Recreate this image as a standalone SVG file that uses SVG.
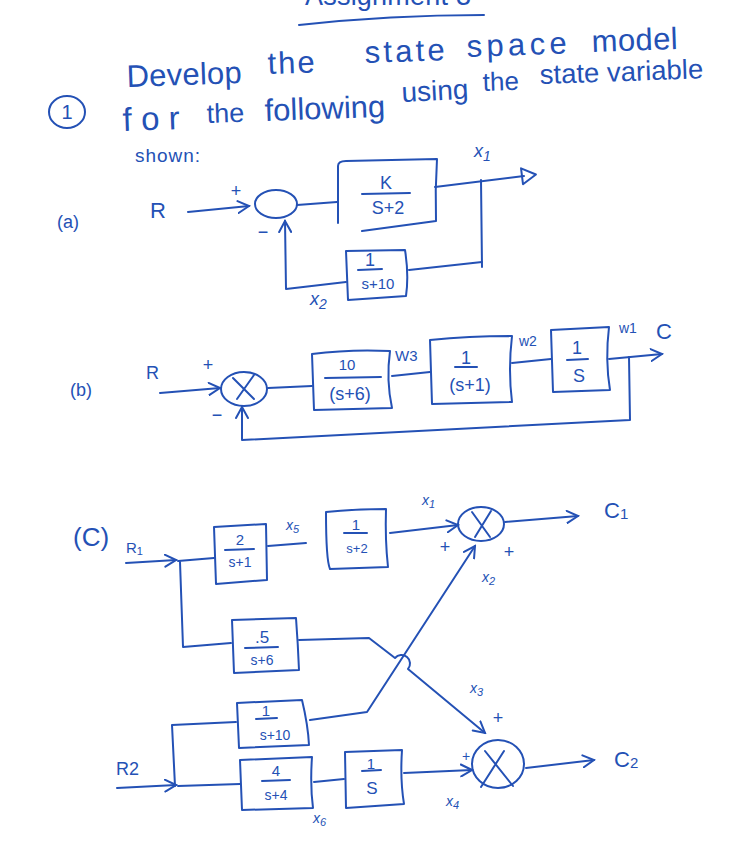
<svg xmlns="http://www.w3.org/2000/svg" width="749" height="854" viewBox="0 0 749 854">
<defs>
<style>
.ink{stroke:#2451b5;stroke-width:2;fill:none;stroke-linecap:round;stroke-linejoin:round}
text{fill:#2451b5;font-family:"Liberation Sans","DejaVu Sans",sans-serif}
.h{font-size:31px}
.lb{font-size:18px}
.sm{font-size:14px}
.m{text-anchor:middle}
.v{font-style:italic}
</style>
<marker id="arr" markerUnits="userSpaceOnUse" viewBox="0 0 14 14" markerWidth="14" markerHeight="14" refX="12" refY="7" orient="auto">
<path d="M1,1 L12,7 L1,13" fill="none" stroke="#2451b5" stroke-width="2" stroke-linecap="round"/>
</marker>
<marker id="tri" markerUnits="userSpaceOnUse" viewBox="0 0 20 20" markerWidth="20" markerHeight="20" refX="4" refY="10" orient="auto">
<path d="M2,2 L16,10 L2,18 Z" fill="none" stroke="#2451b5" stroke-width="2" stroke-linejoin="round"/>
</marker>
</defs>
<rect width="749" height="854" fill="#ffffff"/>

<g id="heading">
<text x="305" y="5" class="h" style="font-size:27px" textLength="166" lengthAdjust="spacing">Assignment 3</text>
<path class="ink" d="M299,25 Q390,15 484,15"/>
<text x="127" y="87" class="h" textLength="115" lengthAdjust="spacing" transform="rotate(-2 127 87)">Develop</text>
<text x="268" y="74" class="h" textLength="47" lengthAdjust="spacing" transform="rotate(-2 268 74)">the</text>
<text x="365" y="63" class="h" textLength="80" lengthAdjust="spacing" transform="rotate(-2 365 63)">state</text>
<text x="467" y="57" class="h" textLength="100" lengthAdjust="spacing" transform="rotate(-2 467 57)">space</text>
<text x="592" y="52" class="h" textLength="86" lengthAdjust="spacing" transform="rotate(-2 592 52)">model</text>
<ellipse cx="67" cy="112" rx="18" ry="16" class="ink"/>
<text x="67" y="119" class="m" style="font-size:20px">1</text>
<text x="123" y="131" style="font-size:33px" textLength="57" lengthAdjust="spacing" transform="rotate(-2 123 131)">for</text>
<text x="207" y="123" style="font-size:27px" transform="rotate(-2 207 123)">the</text>
<text x="265" y="121" style="font-size:31px" transform="rotate(-2 265 121)">following</text>
<text x="402" y="102" style="font-size:28px" transform="rotate(-3 402 102)">using</text>
<text x="483" y="91" style="font-size:26px" transform="rotate(-2 483 91)">the</text>
<text x="540" y="84" style="font-size:27.5px" transform="rotate(-2 540 84)">state variable</text>
<text x="135" y="162" style="font-size:19px" textLength="65" lengthAdjust="spacing">shown:</text>
</g>

<g id="connectors">
<!-- (a) -->
<path class="ink" d="M188,212 L249,206" marker-end="url(#arr)"/>
<path class="ink" d="M297,205 L337,202"/>
<path class="ink" d="M435,187 L524,176" marker-end="url(#tri)"/>
<path class="ink" d="M481,180 L482,267"/>
<path class="ink" d="M482,262 L409,270"/>
<path class="ink" d="M346,282 L286,289 L285,221" marker-end="url(#arr)"/>
<!-- (b) -->
<path class="ink" d="M160,393 L220,388" marker-end="url(#arr)"/>
<path class="ink" d="M268,388 L312,386"/>
<path class="ink" d="M392,376 L430,372"/>
<path class="ink" d="M512,363 L551,359"/>
<path class="ink" d="M609,359 L662,354" marker-end="url(#arr)"/>
<path class="ink" d="M629,357 L630,420 L242,440 L242,407" marker-end="url(#arr)"/>
<!-- (c) -->
<path class="ink" d="M126,563 L176,560" marker-end="url(#arr)"/>
<path class="ink" d="M178,561 L214,558"/>
<path class="ink" d="M180,562 L183,647 L231,643"/>
<path class="ink" d="M268,546 L306,543"/>
<path class="ink" d="M390,533 L458,525" marker-end="url(#arr)"/>
<path class="ink" d="M505,522 L578,516" marker-end="url(#arr)"/>
<path class="ink" d="M299,640 L369,638 L395,658 A7,7 0 0 1 408,669 L485,733" marker-end="url(#arr)"/>
<path class="ink" d="M310,720 L367,712 L475,546" marker-end="url(#arr)"/>
<path class="ink" d="M236,722 L172,725 L175,786"/>
<path class="ink" d="M117,788 L176,785" marker-end="url(#arr)"/>
<path class="ink" d="M178,786 L240,784"/>
<path class="ink" d="M314,782 L344,779"/>
<path class="ink" d="M404,773 L472,770" marker-end="url(#arr)"/>
<path class="ink" d="M526,768 L594,760" marker-end="url(#arr)"/>
</g>

<g id="labels-a">
<text x="57" y="228" class="lb">(a)</text>
<text x="150" y="218" style="font-size:22px">R</text>
<text x="236" y="197" class="m lb">+</text>
<text x="263" y="238" class="m lb">−</text>
<text x="474" y="157" class="lb v">x<tspan class="sm" dy="4">1</tspan></text>
<text x="310" y="305" class="lb v">x<tspan class="sm" dy="4">2</tspan></text>
</g>
<g id="sum-a">
<ellipse cx="276" cy="204" rx="21" ry="14" class="ink"/>
</g>
<g id="block-a1">
<path class="ink" d="M338,166 Q338,161 346,161 L437,159 Q435,190 436,221 L362,231 M338,166 L338,223"/>
<text x="386" y="189" class="m lb">K</text>
<path class="ink" d="M362,194 L410,193"/>
<text x="388" y="214" class="m lb">S+2</text>
</g>
<g id="block-a2">
<path class="ink" d="M346,251 L405,250 Q409,275 406,296 L348,300 Z"/>
<text x="370" y="266" class="m lb">1</text>
<path class="ink" d="M358,270 L382,269"/>
<text x="378" y="289" class="m" style="font-size:15px">s+10</text>
</g>

<g id="labels-b">
<text x="70" y="396" class="lb">(b)</text>
<text x="146" y="379" class="lb">R</text>
<text x="208" y="371" class="m lb">+</text>
<text x="217" y="421" class="m lb">−</text>
<text x="395" y="361" style="font-size:15px">W3</text>
<text x="519" y="346" class="sm">w2</text>
<text x="619" y="333" class="sm">w1</text>
<text x="656" y="339" style="font-size:22px">C</text>
</g>
<g id="sum-b">
<ellipse cx="244" cy="389" rx="23" ry="17" class="ink"/>
<path class="ink" d="M233,378 L254,399 M254,375 L237,399"/>
</g>
<g id="block-b1">
<path class="ink" d="M312,354 Q350,349 390,351 Q386,380 392,408 L314,410 Z"/>
<text x="347" y="370" class="m" style="font-size:15px">10</text>
<path class="ink" d="M325,378 L381,377"/>
<text x="350" y="400" class="m lb">(s+6)</text>
</g>
<g id="block-b2">
<path class="ink" d="M430,340 Q470,336 512,336 Q508,370 512,402 L432,404 Z"/>
<text x="466" y="364" class="m lb">1</text>
<path class="ink" d="M455,367 L477,367"/>
<text x="470" y="391" class="m lb">(s+1)</text>
</g>
<g id="block-b3">
<path class="ink" d="M551,330 L609,327 Q605,360 610,390 L553,392 Z"/>
<text x="577" y="354" class="m lb">1</text>
<path class="ink" d="M567,360 L588,359"/>
<text x="579" y="382" class="m lb">S</text>
</g>

<g id="labels-c">
<text x="73" y="546" style="font-size:26px">(C)</text>
<text x="126" y="553" style="font-size:15px">R<tspan style="font-size:11px" dy="2">1</tspan></text>
<text x="286" y="530" class="sm v">x<tspan style="font-size:11px" dy="3">5</tspan></text>
<text x="422" y="505" class="sm v">x<tspan style="font-size:11px" dy="3">1</tspan></text>
<text x="445" y="553" class="m lb">+</text>
<text x="509" y="558" class="m lb">+</text>
<text x="482" y="582" class="sm v">x<tspan style="font-size:11px" dy="3">2</tspan></text>
<text x="604" y="518" style="font-size:22px">C<tspan style="font-size:15px" dy="1">1</tspan></text>
<text x="470" y="693" class="sm v">x<tspan style="font-size:11px" dy="3">3</tspan></text>
<text x="498" y="724" class="m lb">+</text>
<text x="116" y="775" class="lb">R2</text>
<text x="466" y="761" class="m sm">+</text>
<text x="313" y="823" class="sm v">x<tspan style="font-size:11px" dy="3">6</tspan></text>
<text x="446" y="806" class="sm v">x<tspan style="font-size:11px" dy="3">4</tspan></text>
<text x="614" y="767" style="font-size:22px">C<tspan style="font-size:15px" dy="1">2</tspan></text>
</g>
<g id="sum-c1">
<ellipse cx="481" cy="524" rx="23" ry="17" class="ink"/>
<path class="ink" d="M472,512 L490,537 M491,511 L475,537"/>
</g>
<g id="sum-c2">
<ellipse cx="498" cy="764" rx="26" ry="24" class="ink"/>
<path class="ink" d="M485,751 L513,786 M504,751 L481,787"/>
</g>
<g id="block-c1">
<path class="ink" d="M214,527 L266,524 L267,580 L216,584 Z"/>
<text x="240" y="545" class="m" style="font-size:15px">2</text>
<path class="ink" d="M225,550 L254,549"/>
<text x="240" y="567" class="m sm">s+1</text>
</g>
<g id="block-c2">
<path class="ink" d="M326,512 Q355,509 386,509 Q385,540 388,567 L330,569 Q326,560 326,512 Z"/>
<text x="356" y="530" class="m" style="font-size:15px">1</text>
<path class="ink" d="M344,533 L367,533"/>
<text x="357" y="553" class="m" style="font-size:13px">s+2</text>
</g>
<g id="block-c3">
<path class="ink" d="M232,620 L296,618 Q298,645 299,670 L234,673 Z"/>
<text x="262" y="643" class="m" style="font-size:17px">.5</text>
<path class="ink" d="M245,648 L278,647"/>
<text x="262" y="665" class="m sm">s+6</text>
</g>
<g id="block-c4">
<path class="ink" d="M237,703 L302,700 Q308,725 309,745 L239,748 Z"/>
<text x="266" y="716" class="m" style="font-size:15px">1</text>
<path class="ink" d="M256,719 L277,718"/>
<text x="275" y="740" class="m sm">s+10</text>
</g>
<g id="block-c5">
<path class="ink" d="M240,760 L312,757 Q310,785 313,808 L242,810 Z"/>
<text x="276" y="776" class="m" style="font-size:15px">4</text>
<path class="ink" d="M262,781 L290,780"/>
<text x="276" y="800" class="m sm">s+4</text>
</g>
<g id="block-c6">
<path class="ink" d="M345,752 L402,750 Q400,780 404,804 L346,808 Z"/>
<text x="371" y="769" class="m" style="font-size:15px">1</text>
<path class="ink" d="M362,771 L381,770"/>
<text x="372" y="794" class="m" style="font-size:17px">S</text>
</g>
</svg>
